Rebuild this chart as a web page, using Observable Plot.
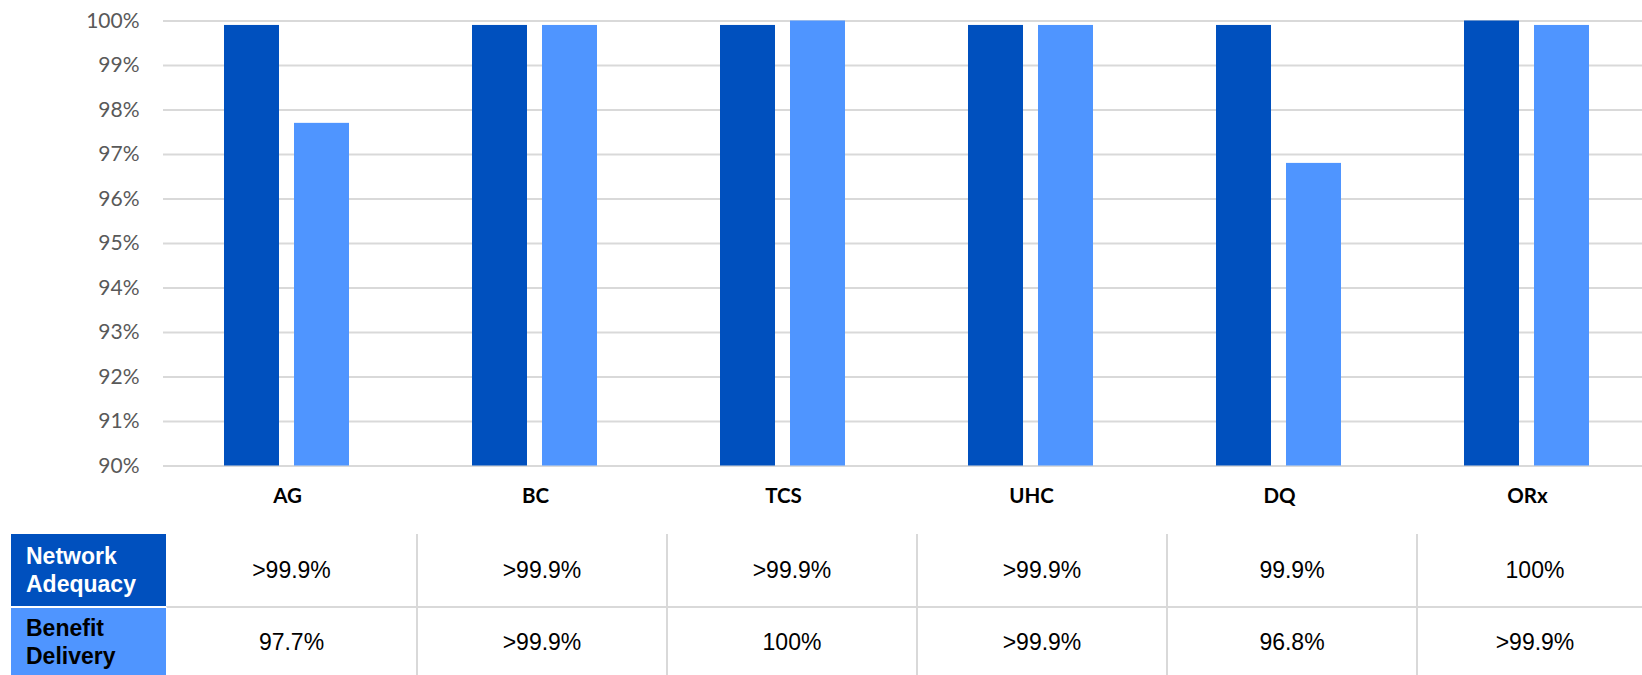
<!DOCTYPE html>
<html>
<head>
<meta charset="utf-8">
<script src="https://cdn.jsdelivr.net/npm/d3@7"></script>
<script src="https://cdn.jsdelivr.net/npm/@observablehq/plot@0.6"></script>
<style>
  html, body { margin: 0; padding: 0; background: #fff; overflow: hidden; }
  #chart svg { display: block; }
  .tbl { margin-left: 11px; width: 1700px; font-family: "Liberation Sans", Arial, sans-serif; color: #000; }
  .tbl .row { display: flex; }
  .tbl .head { flex: 0 0 auto; width: 140px; padding-left: 15px; display: flex; align-items: center;
               font-weight: bold; font-size: 23px; line-height: 28px; }
  .tbl .cell { flex: 0 0 auto; display: flex; align-items: center; justify-content: center;
               font-size: 23px; box-sizing: border-box; border-left: 2px solid #D9D9D9; }
</style>
</head>
<body>
<div id="chart"></div>
<div id="table" class="tbl"></div>
<script>
// Plans compared
const categories = ["AG", "BC", "TCS", "UHC", "DQ", "ORx"];
// Measures (series) and their colours
const seriesNames = ["Network Adequacy", "Benefit Delivery"];
const seriesColors = ["#0050BE", "#4F95FF"];
// Values in percent
const networkAdequacy = [99.9, 99.9, 99.9, 99.9, 99.9, 100];
const benefitDelivery = [97.7, 99.9, 100, 99.9, 96.8, 99.9];
// Labels shown in the summary table
const networkLabels = [">99.9%", ">99.9%", ">99.9%", ">99.9%", "99.9%", "100%"];
const benefitLabels = ["97.7%", ">99.9%", "100%", ">99.9%", "96.8%", ">99.9%"];
const tableRowLabels = [["Network", "Adequacy"], ["Benefit", "Delivery"]];
// Y axis ticks
const yTicks = [90, 91, 92, 93, 94, 95, 96, 97, 98, 99, 100];

const rows = categories.flatMap((c, i) => [
  {category: c, series: seriesNames[0], value: networkAdequacy[i]},
  {category: c, series: seriesNames[1], value: benefitDelivery[i]}
]);

const chart = Plot.plot({
  width: 1652,
  height: 530,
  marginTop: 20.5,
  marginBottom: 64.5,
  marginLeft: 162,
  marginRight: 0,
  style: {maxWidth: "none", overflow: "hidden", fontFamily: "Lato, sans-serif", background: "white"},
  fx: {domain: categories, padding: 0, label: null},
  x: {domain: seriesNames, paddingInner: 0.213, paddingOuter: 0.868, axis: null},
  y: {domain: [yTicks[0], yTicks[yTicks.length - 1]], axis: null},
  color: {domain: seriesNames, range: seriesColors},
  marks: [
    Plot.ruleY(yTicks, {stroke: "#D9D9D9", strokeWidth: 2}),
    Plot.barY(rows, {fx: "category", x: "series", y1: () => yTicks[0], y2: "value", fill: "series", inset: 0}),
    Plot.axisY({ticks: yTicks, tickFormat: d => d + "%", tickSize: 0, tickPadding: 24,
                fontSize: 21, color: "#595959", label: null}),
    Plot.axisFx({anchor: "bottom", tickSize: 0, tickPadding: 22.6, fontSize: 20.5,
                 fontWeight: "bold", color: "#000", label: null})
  ]
});
document.getElementById("chart").appendChild(chart);

// Summary table under the chart
const table = document.getElementById("table");
table.style.marginTop = "4px";
const colWidths = [250, 250, 250, 250, 250, 236];
[networkLabels, benefitLabels].forEach((labels, r) => {
  const row = document.createElement("div");
  row.className = "row";
  const h = document.createElement("div");
  h.className = "head";
  h.style.background = seriesColors[r];
  h.style.color = r === 0 ? "#fff" : "#000";
  h.style.height = r === 0 ? "72px" : "68px";
  if (r === 1) h.style.borderTop = "2px solid #fff";
  h.innerHTML = tableRowLabels[r].join("<br>");
  row.appendChild(h);
  labels.forEach((t, i) => {
    const c = document.createElement("div");
    c.className = "cell";
    c.style.width = colWidths[i] + "px";
    c.style.height = (r === 0 ? 72 : 70) + "px";
    if (i === 0) c.style.borderLeft = "1px solid #fff";
    if (r === 1) c.style.borderTop = "2px solid #D9D9D9";
    c.textContent = t;
    row.appendChild(c);
  });
  table.appendChild(row);
});
</script>
</body>
</html>
